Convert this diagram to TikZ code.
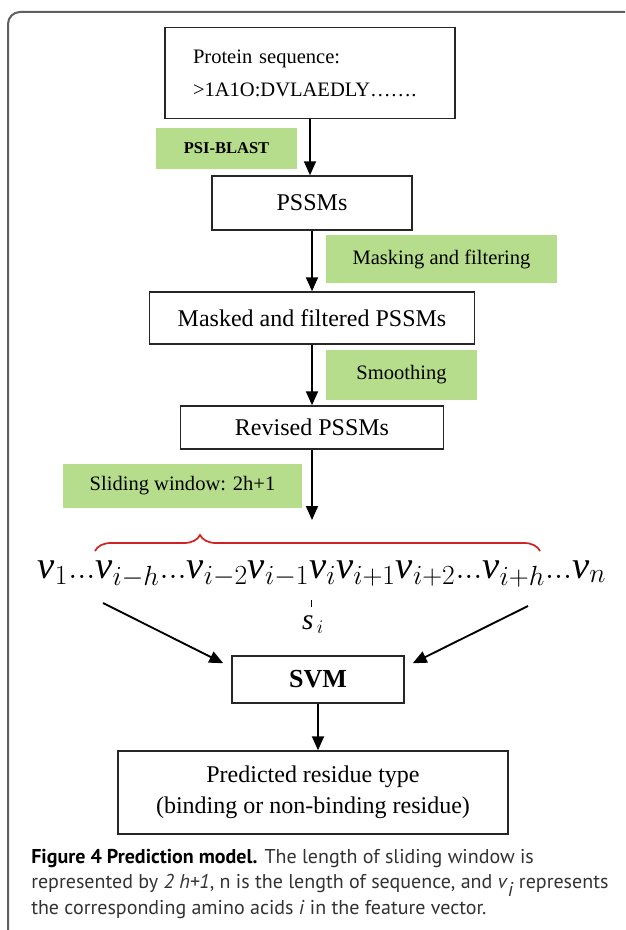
\documentclass[tikz,border=0pt]{standalone}
\usepackage{fontspec}
\setmainfont{Liberation Serif}
\newfontfamily\capfont{PT Sans}
\usetikzlibrary{arrows.meta,decorations.pathreplacing}

\definecolor{toolgreen}{RGB}{181,221,140}
\definecolor{framegray}{RGB}{95,95,95}
\definecolor{bracered}{RGB}{205,35,35}
\definecolor{captext}{RGB}{50,50,50}

\tikzset{
    stage box/.style={
        draw=black!85,line width=1.1pt,
        fill=white,inner sep=0pt,
        font=\fontsize{18}{21}\selectfont
    },
    tool label/.style={
        fill=toolgreen,inner sep=0pt,
        font=\fontsize{15.4}{18}\selectfont
    },
    flow/.style={
        line width=1.4pt,-{Triangle[length=10.5pt,width=9pt]}
    }
}

\begin{document}
\begin{tikzpicture}[x=0.75pt,y=-0.75pt]
    \useasboundingbox (0,0) rectangle (625,930);
    % frame round figure and caption
    \draw[framegray,line width=1.5pt,rounded corners=9pt] (8,930) -- (8,12) -- (625,12);

    % pipeline boxes
    \node[stage box,align=left,text width=175.5pt,inner xsep=21pt,minimum height=68pt,
        font=\fontsize{15.4}{24.75}\selectfont] (protein) at (310,73)
        {Protein sequence:\\>1A1O:DVLAEDLY\ldots\ldots.};
    \node[stage box,minimum width=150pt,minimum height=40.5pt] (pssm) at (312,203) {PSSMs};
    \node[stage box,minimum width=243.75pt,minimum height=39pt] (masked) at (312,318) {Masked and filtered PSSMs};
    \node[stage box,minimum width=197.25pt,minimum height=32.25pt] (revised) at (312,427.5) {Revised PSSMs};
    \node[stage box,minimum width=129pt,minimum height=35.25pt,
        font=\fontsize{19.5}{21}\selectfont\bfseries] (svm) at (318,679.5) {SVM};
    \node[stage box,align=center,minimum width=292.5pt,minimum height=62.25pt,
        font=\fontsize{18}{23.5}\selectfont] (result) at (313,792.5)
        {Predicted residue type\\(binding or non-binding residue)};

    % green labels beside the arrows
    \node[tool label,minimum width=105.75pt,minimum height=30.75pt,
        font=\fontsize{12.4}{14}\selectfont\bfseries] (blast) at (226.5,148.5) {PSI-BLAST};
    \node[tool label,minimum width=173.25pt,minimum height=36pt] (mask) at (441.5,259) {Masking and filtering};
    \node[tool label,minimum width=113.25pt,minimum height=37.5pt] (smooth) at (401.5,375) {Smoothing};
    \node[tool label,minimum width=179.25pt,minimum height=33pt] (window) at (182.5,486) {Sliding window: 2h+1};

    \foreach \a/\b in {protein/pssm,pssm/masked,masked/revised,svm/result}
        \draw[flow] (\a.south) -- (\a.south |- \b.north);
    \coordinate (win) at (312,520);
    \draw[flow] (revised.south) -- (win);

    % feature vector and the window over it
    \node[anchor=base,inner sep=0pt,font=\fontsize{29}{34}\selectfont] (vec) at (322,578)
        {$\mathit{v}_1{.}{.}{.}\mathit{v}_{i-h}{.}{.}{.}\mathit{v}_{i-2}\mathit{v}_{i-1}\mathit{v}_i\mathit{v}_{i+1}\mathit{v}_{i+2}{.}{.}{.}\mathit{v}_{i+h}{.}{.}{.}\mathit{v}_n$};
    \coordinate (brl) at (95,551);
    \coordinate (brr) at (540,551);
    \draw[bracered,line width=1.3pt,decorate,decoration={brace,amplitude=12pt,aspect=0.236}] (brl) -- (brr);
    \coordinate (tick) at (311,600);
    \draw[line width=0.6pt] (tick) -- ++(0,7);
    \node[font=\fontsize{22}{24}\selectfont] (si) at (313,625) {$\mathit{s}_{\,i}$};

    \coordinate (lstart) at (103,603);
    \coordinate (rstart) at (528,606);
    \draw[flow] (lstart) -- ([shift={(-8,8)}]svm.north west);
    \draw[flow] (rstart) -- ([shift={(8,8)}]svm.north east);

    % caption
    \node[anchor=north west,align=left,inner sep=0pt,text=captext,
        font=\capfont\fontsize{15}{19}\selectfont] (caption) at (31,849)
        {\textcolor{black}{\bfseries Figure 4 Prediction model.} The length of sliding window is\\
        represented by \textit{2 h+1}, n is the length of sequence, and \textit{v}$_{\textit{i}}$ represents\\
        the corresponding amino acids \textit{i} in the feature vector.};
\end{tikzpicture}
\end{document}
